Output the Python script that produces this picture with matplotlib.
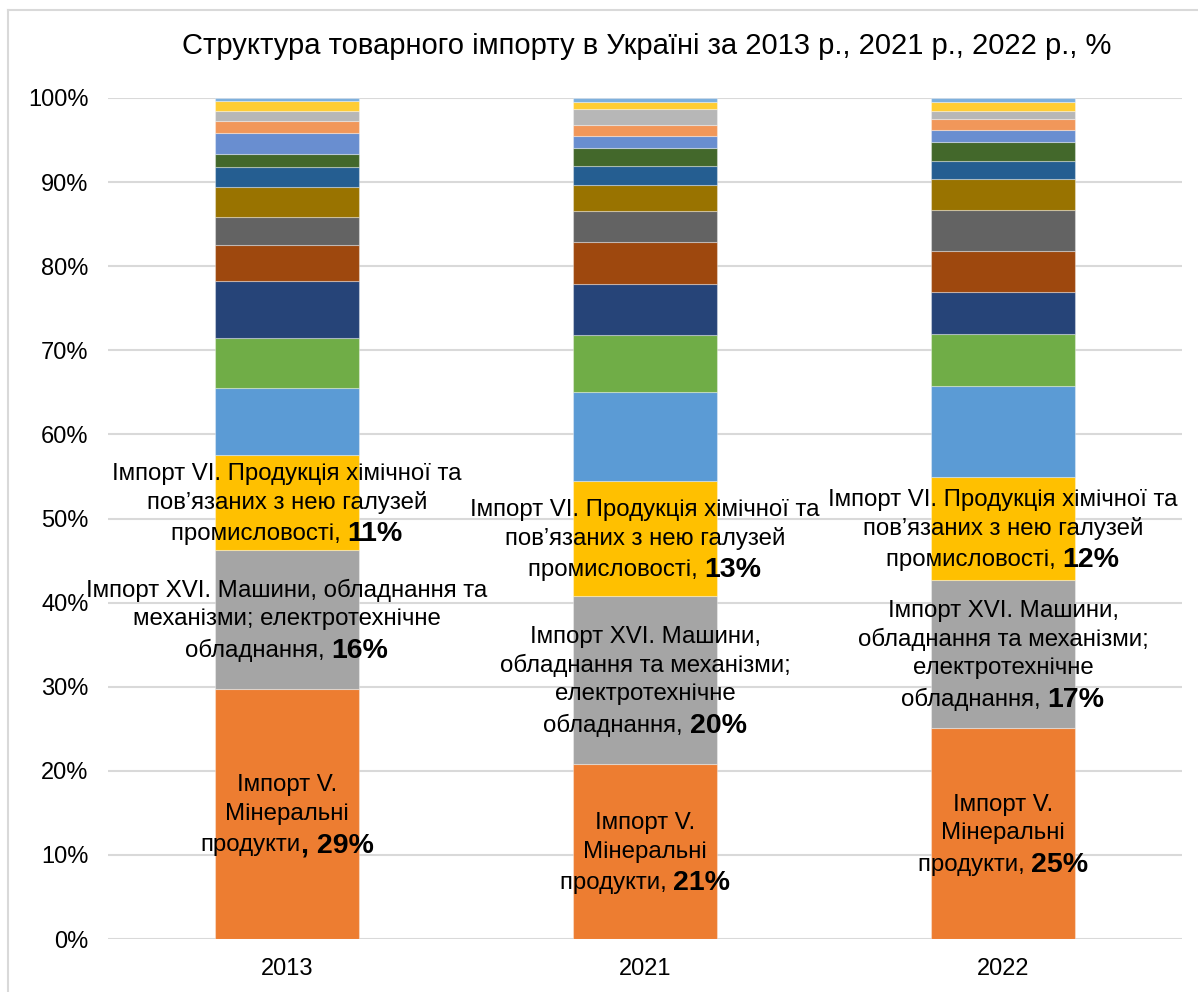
import matplotlib
matplotlib.use("Agg")
import matplotlib.pyplot as plt
from matplotlib.lines import Line2D
import matplotlib.transforms as mtransforms
import numpy as np

plt.rcParams['font.family'] = ['Liberation Sans', 'DejaVu Sans']

years = ["2013", "2021", "2022"]

# shares of 16 commodity groups, bottom to top (%)
s01 = [29.7, 20.8, 25.1]   # Імпорт V. Мінеральні продукти
s02 = [16.6, 20.0, 17.6]   # Імпорт XVI
s03 = [11.2, 13.6, 12.2]   # Імпорт VI
s04 = [8.0, 10.6, 10.85]
s05 = [6.0, 6.8, 6.2]
s06 = [6.7, 6.1, 5.0]
s07 = [4.3, 5.0, 4.9]
s08 = [3.3, 3.7, 4.8]
s09 = [3.6, 3.0, 3.7]
s10 = [2.4, 2.3, 2.2]
s11 = [1.5, 2.1, 2.2]
s12 = [2.5, 1.5, 1.5]
s13 = [1.5, 1.3, 1.2]
s14 = [1.2, 1.9, 1.0]
s15 = [1.1, 0.8, 1.1]
s16 = [0.4, 0.5, 0.4]
series = [s01, s02, s03, s04, s05, s06, s07, s08, s09, s10, s11, s12, s13, s14, s15, s16]

colors = ["#ED7D31", "#A5A5A5", "#FFC000", "#5B9BD5", "#70AD47", "#264478",
          "#9E480E", "#636363", "#997300", "#255E91", "#43682B", "#698ED0",
          "#F1975A", "#B7B7B7", "#FFCD33", "#7CAFDD"]

# data labels: normal lines + bold tail
labels_V = [
    ["Імпорт V.", "Мінеральні", "продукти"],
    ["Імпорт V.", "Мінеральні", "продукти, "],
    ["Імпорт V.", "Мінеральні", "продукти, "],
]
tails_V = [", 29%", "21%", "25%"]
labels_XVI = [
    ["Імпорт XVI. Машини, обладнання та", "механізми; електротехнічне", "обладнання, "],
    ["Імпорт XVI. Машини,", "обладнання та механізми;", "електротехнічне", "обладнання, "],
    ["Імпорт XVI. Машини,", "обладнання та механізми;", "електротехнічне", "обладнання, "],
]
tails_XVI = ["16%", "20%", "17%"]
labels_VI = [
    ["Імпорт VI. Продукція хімічної та", "пов’язаних з нею галузей", "промисловості, "],
    ["Імпорт VI. Продукція хімічної та", "пов’язаних з нею галузей", "промисловості, "],
    ["Імпорт VI. Продукція хімічної та", "пов’язаних з нею галузей", "промисловості, "],
]
tails_VI = ["11%", "13%", "12%"]

W, H = 1198, 992
fig = plt.figure(figsize=(W / 100, H / 100), dpi=100)
ax = fig.add_axes([108 / W, 1 - 939 / H, (1182 - 108) / W, (939 - 98) / H])

x = np.arange(len(years))
bottom = np.zeros(len(years))
for vals, c in zip(series, colors):
    v = np.array(vals, dtype=float)
    ax.bar(x, v, 0.4, bottom=bottom, color=c, edgecolor=(1, 1, 1, 0.35), linewidth=0.8, zorder=2)
    bottom += v

ax.set_xlim(-0.5, 2.5)
ax.set_ylim(0, 100)
ax.set_yticks(np.arange(0, 101, 10))
ax.set_yticklabels([f"{t}%" for t in range(0, 101, 10)])
ax.set_xticks(x)
ax.set_xticklabels(years)
ax.tick_params(axis='both', length=0, labelsize=17, colors='#000000')
ax.tick_params(axis='y', pad=14)
ax.tick_params(axis='x', pad=14)
ax.grid(axis='y', color='#D9D9D9', linewidth=1.5, zorder=0)
ax.set_axisbelow(True)
for sp in ax.spines.values():
    sp.set_visible(False)

fig.text(647 / W, 1 - 46 / H, "Структура товарного імпорту в Україні за 2013 р., 2021 р., 2022 р., %",
         ha='center', va='center', fontsize=21)

# figure border (top and left visible)
fig.add_artist(Line2D([8 / W, 8 / W], [0, 1 - 10 / H], transform=fig.transFigure, color='#D9D9D9', lw=1.5))
fig.add_artist(Line2D([8 / W, 1], [1 - 10 / H, 1 - 10 / H], transform=fig.transFigure, color='#D9D9D9', lw=1.5))

fig.canvas.draw()
renderer = fig.canvas.get_renderer()

NFS = 17.3
BFS = 20.5
LINE = 28.8  # px


def place_label(xc, yc, lines, tail):
    n = len(lines)
    top_offset = (n - 1) * LINE / 2
    for i, ln in enumerate(lines):
        dy = top_offset - i * LINE
        if i < n - 1:
            tr = mtransforms.offset_copy(ax.transData, fig=fig, x=0, y=dy, units='dots')
            ax.text(xc, yc, ln, ha='center', va='center', fontsize=NFS, transform=tr, zorder=5)
        else:
            t1 = ax.text(0, 0, ln, fontsize=NFS)
            t2 = ax.text(0, 0, tail, fontsize=BFS, fontweight='bold')
            w1 = t1.get_window_extent(renderer).width
            w2 = t2.get_window_extent(renderer).width
            t1.remove()
            t2.remove()
            total = w1 + w2
            tr1 = mtransforms.offset_copy(ax.transData, fig=fig, x=-total / 2, y=dy, units='dots')
            tr2 = mtransforms.offset_copy(ax.transData, fig=fig, x=-total / 2 + w1, y=dy, units='dots')
            ax.text(xc, yc, ln, ha='left', va='center_baseline', fontsize=NFS, transform=tr1, zorder=5)
            ax.text(xc, yc, tail, ha='left', va='center_baseline', fontsize=BFS, fontweight='bold',
                    transform=tr2, zorder=5)


cum = np.cumsum(np.array(series, dtype=float), axis=0)
for j in range(len(years)):
    b0 = 0.0
    mids = []
    for k in range(3):
        top = cum[k, j]
        mids.append((b0 + top) / 2)
        b0 = top
    place_label(x[j], mids[0], labels_V[j], tails_V[j])
    place_label(x[j], mids[1], labels_XVI[j], tails_XVI[j])
    place_label(x[j], mids[2], labels_VI[j], tails_VI[j])

fig.savefig("out.png", dpi=100)
